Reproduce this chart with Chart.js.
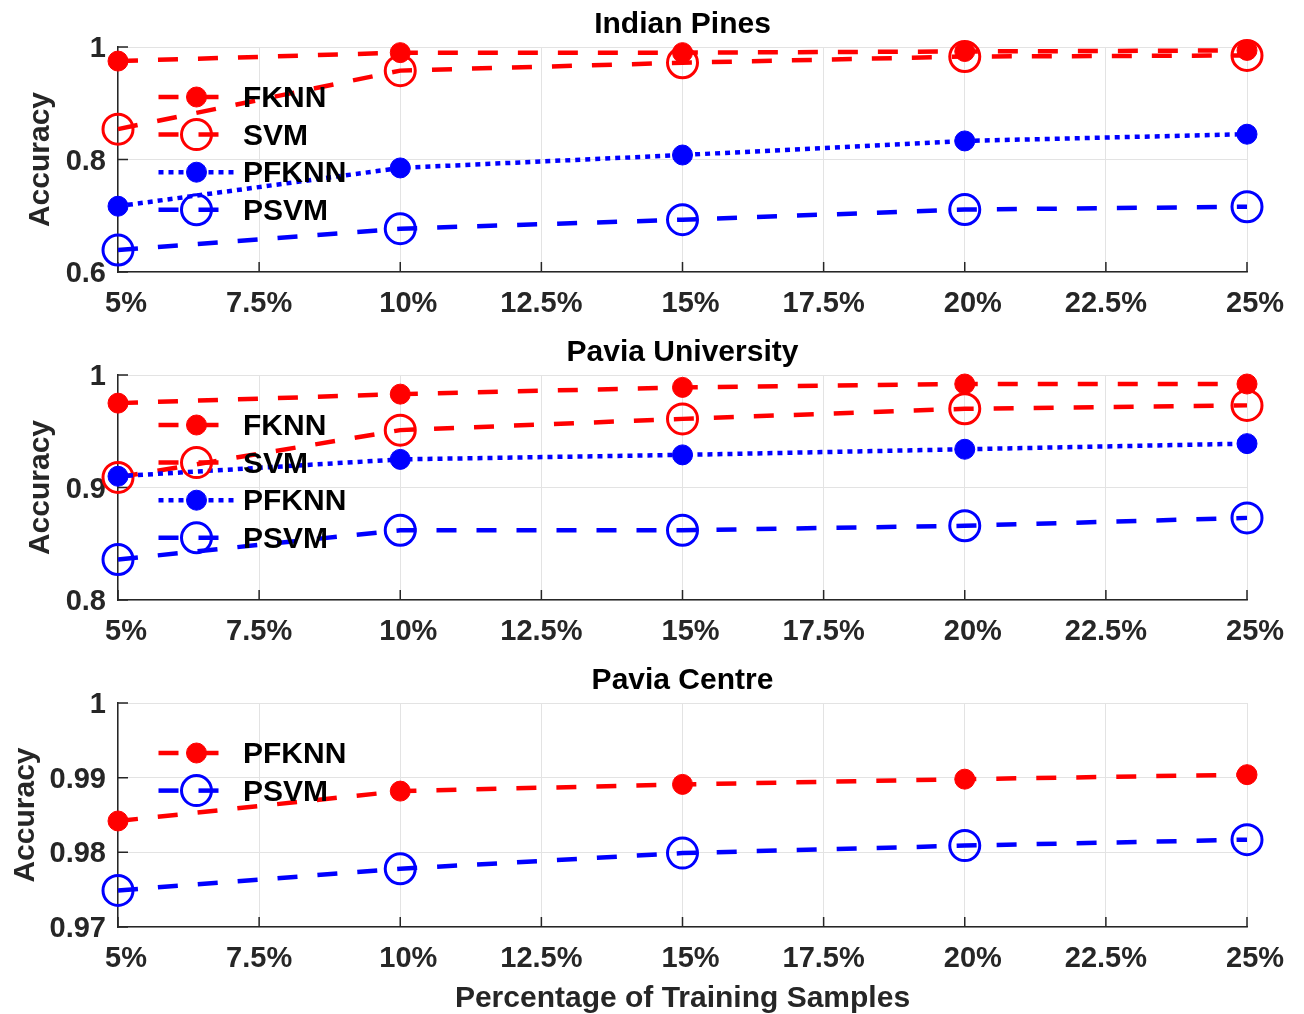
<!DOCTYPE html>
<html>
<head>
<meta charset="utf-8">
<script src="https://cdn.jsdelivr.net/npm/chart.js@4.4.1/dist/chart.umd.min.js"></script>
<style>
  body { margin: 0; background: #fff; }
  canvas { display: block; }
</style>
</head>
<body>
<canvas id="indianPines" width="1304" height="328"></canvas>
<canvas id="paviaUniv" width="1304" height="328"></canvas>
<canvas id="paviaCentre" width="1304" height="358"></canvas>
<script>
const pctX = [5, 10, 15, 20, 25];
const xTicks = [5, 7.5, 10, 12.5, 15, 17.5, 20, 22.5, 25];
const xTickLabels = ['  5%', '7.5%', '  10%', '12.5%', '  15%', '17.5%', '  20%', '22.5%', '  25%'];

// Indian Pines
const ipYTicks = [0.6, 0.8, 1];
const ipFknn = [0.975, 0.990, 0.990, 0.992, 0.994];
const ipSvm = [0.854, 0.958, 0.972, 0.983, 0.985];
const ipPfknn = [0.717, 0.785, 0.808, 0.833, 0.845];
const ipPsvm = [0.639, 0.677, 0.693, 0.711, 0.716];

// Pavia University
const puYTicks = [0.8, 0.9, 1];
const puFknn = [0.975, 0.983, 0.989, 0.992, 0.992];
const puSvm = [0.909, 0.951, 0.961, 0.970, 0.973];
const puPfknn = [0.910, 0.925, 0.929, 0.934, 0.939];
const puPsvm = [0.836, 0.862, 0.862, 0.866, 0.873];

// Pavia Centre
const pcYTicks = [0.97, 0.98, 0.99, 1];
const pcPfknn = [0.9842, 0.9882, 0.9891, 0.9898, 0.9904];
const pcPsvm = [0.9749, 0.9778, 0.9799, 0.9809, 0.9817];

const RED = '#ff0000';
const BLUE = '#0000ff';
const AXIS = '#262626';
const FONT = "'Liberation Sans', Arial, sans-serif";
const DASHED = [20, 20];
const DOTTED = [5, 5];

function series(label, values, color, dash, open) {
  return { label, values, color, dash, open };
}

// short dark ticks pointing into the plot, like matlab
const innerTicks = {
  id: 'innerTicks',
  beforeDatasetsDraw(chart) {
    const { ctx, chartArea, scales: { x, y } } = chart;
    ctx.save();
    ctx.strokeStyle = AXIS;
    ctx.lineWidth = 1.5;
    ctx.beginPath();
    for (const t of x.ticks) {
      const px = x.getPixelForValue(t.value);
      ctx.moveTo(px, chartArea.bottom);
      ctx.lineTo(px, chartArea.bottom - 10);
    }
    for (const t of y.ticks) {
      const py = y.getPixelForValue(t.value);
      ctx.moveTo(chartArea.left, py);
      ctx.lineTo(chartArea.left + 10, py);
    }
    ctx.stroke();
    ctx.restore();
  }
};

function drawMarker(ctx, x, y, ds) {
  ctx.beginPath();
  ctx.arc(x, y, ds.pointRadius, 0, Math.PI * 2);
  if (ds.pointBackgroundColor !== 'rgba(0,0,0,0)') {
    ctx.fillStyle = ds.pointBackgroundColor;
    ctx.fill();
  }
  ctx.lineWidth = ds.pointBorderWidth;
  ctx.strokeStyle = ds.pointBorderColor;
  ctx.stroke();
}

// legend with line sample + marker, sitting inside the axes
const lineLegend = {
  id: 'lineLegend',
  afterDatasetsDraw(chart) {
    const { ctx, chartArea } = chart;
    ctx.save();
    chart.data.datasets.forEach((ds, i) => {
      const y = chartArea.top + 50 + i * 37.6;
      const x0 = chartArea.left + 40.5;
      ctx.beginPath();
      ctx.setLineDash(ds.borderDash);
      ctx.lineWidth = ds.borderWidth;
      ctx.strokeStyle = ds.borderColor;
      ctx.moveTo(x0, y);
      ctx.lineTo(x0 + 76, y);
      ctx.stroke();
      ctx.setLineDash([]);
      drawMarker(ctx, x0 + 38, y, ds);
      ctx.fillStyle = '#000';
      ctx.font = 'bold 30px ' + FONT;
      ctx.textBaseline = 'middle';
      ctx.fillText(ds.label, chartArea.left + 125, y + 2);
    });
    ctx.restore();
  }
};

function makePlot(id, title, list, yTicks, opts) {
  const n = list.length;
  const datasets = list.map((s, i) => ({
    label: s.label,
    data: pctX.map((x, k) => ({ x, y: s.values[k] })),
    borderColor: s.color,
    borderWidth: 4.5,
    borderDash: s.dash,
    borderCapStyle: 'butt',
    fill: false,
    tension: 0,
    pointStyle: 'circle',
    pointRadius: s.open ? 15 : 10,
    pointBorderWidth: s.open ? 3 : 1,
    pointBorderColor: s.color,
    pointBackgroundColor: s.open ? 'rgba(0,0,0,0)' : s.color,
    clip: false,
    order: n - 1 - i,
  }));

  return new Chart(document.getElementById(id), {
    type: 'line',
    data: { datasets },
    options: {
      responsive: false,
      animation: false,
      devicePixelRatio: 1,
      layout: { padding: { left: 0, right: 57, top: 0, bottom: 0 } },
      plugins: {
        legend: { display: false },
        tooltip: { enabled: false },
        title: {
          display: true,
          text: title,
          fullSize: false,
          color: '#000',
          font: { family: FONT, size: 30, weight: 'bold', lineHeight: 1 },
          padding: { top: 10, bottom: 7 },
        },
      },
      scales: {
        x: {
          type: 'linear',
          min: 5,
          max: 25,
          afterBuildTicks: (scale) => { scale.ticks = xTicks.map((v) => ({ value: v })); },
          afterFit: (scale) => { scale.height = opts.xHeight; },
          ticks: {
            callback: (v, i) => xTickLabels[i],
            color: AXIS,
            font: { family: FONT, size: 29, weight: 'bold' },
            padding: 15,
            maxRotation: 0,
            autoSkip: false,
          },
          grid: { color: '#e3e3e3', lineWidth: 1, drawTicks: false },
          border: { display: true, color: AXIS, width: 1.5 },
          title: {
            display: !!opts.xTitle,
            text: opts.xTitle || '',
            color: AXIS,
            font: { family: FONT, size: 30, weight: 'bold', lineHeight: 1 },
            padding: { top: 0, bottom: 0 },
          },
        },
        y: {
          type: 'linear',
          min: yTicks[0],
          max: yTicks[yTicks.length - 1],
          afterBuildTicks: (scale) => { scale.ticks = yTicks.map((v) => ({ value: v })); },
          afterFit: (scale) => { scale.width = 118; },
          ticks: {
            callback: (v) => String(v),
            color: AXIS,
            font: { family: FONT, size: 29, weight: 'bold' },
            padding: 12,
            labelOffset: 2,
          },
          grid: { color: '#e3e3e3', lineWidth: 1, drawTicks: false },
          border: { display: true, color: AXIS, width: 1.5 },
          title: {
            display: true,
            text: 'Accuracy',
            color: AXIS,
            font: { family: FONT, size: 30, weight: 'bold', lineHeight: 1 },
            padding: { top: opts.yTitlePad, bottom: 0 },
          },
        },
      },
    },
    plugins: [innerTicks, lineLegend],
  });
}

makePlot('indianPines', 'Indian Pines', [
  series('FKNN', ipFknn, RED, DASHED, false),
  series('SVM', ipSvm, RED, DASHED, true),
  series('PFKNN', ipPfknn, BLUE, DOTTED, false),
  series('PSVM', ipPsvm, BLUE, DASHED, true),
], ipYTicks, { xHeight: 56, yTitlePad: 26 });

makePlot('paviaUniv', 'Pavia University', [
  series('FKNN', puFknn, RED, DASHED, false),
  series('SVM', puSvm, RED, DASHED, true),
  series('PFKNN', puPfknn, BLUE, DOTTED, false),
  series('PSVM', puPsvm, BLUE, DASHED, true),
], puYTicks, { xHeight: 56, yTitlePad: 26 });

makePlot('paviaCentre', 'Pavia Centre', [
  series('PFKNN', pcPfknn, RED, DASHED, false),
  series('PSVM', pcPsvm, BLUE, DASHED, true),
], pcYTicks, { xHeight: 87, yTitlePad: 11, xTitle: 'Percentage of Training Samples' });
</script>
</body>
</html>
